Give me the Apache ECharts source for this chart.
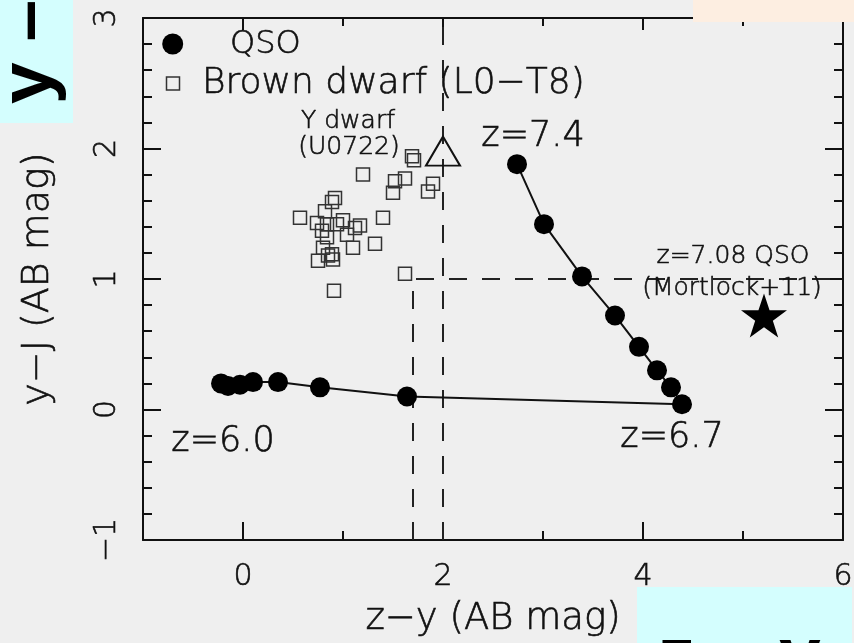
<!DOCTYPE html>
<html>
<head>
<meta charset="utf-8">
<script src="https://cdn.jsdelivr.net/npm/echarts@6/dist/echarts.min.js"></script>
<style>
html, body { margin: 0; padding: 0; background: #efefef; }
#chart { width: 854px; height: 643px; }
</style>
</head>
<body>
<div id="chart"></div>
<script>
// QSO model track, z=6.0 -> 6.7 -> 7.4
var qsoZY = [-0.22, -0.15, -0.03, 0.10, 0.35, 0.77, 1.64, 4.39, 4.28, 4.14, 3.96, 3.72, 3.39, 3.01, 2.74];
var qsoYJ = [0.20, 0.18, 0.19, 0.21, 0.21, 0.17, 0.10, 0.04, 0.17, 0.30, 0.48, 0.72, 1.02, 1.42, 1.88];

// brown dwarfs L0-T8
var bdZY = [1.69, 1.71, 1.20, 1.52, 1.62, 1.50, 1.90, 1.85, 0.92, 0.89, 0.57, 1.40, 0.82, 0.74, 1.00,
            1.17, 1.12, 0.79, 0.94, 1.32, 1.10, 0.84, 0.80, 0.89, 0.90, 0.75, 0.85, 1.62, 0.91, 0.84, 1.04];
var bdYJ = [1.94, 1.91, 1.80, 1.75, 1.77, 1.66, 1.73, 1.67, 1.62, 1.59, 1.47, 1.47, 1.52, 1.43, 1.45,
            1.41, 1.39, 1.37, 1.42, 1.27, 1.24, 1.32, 1.24, 1.19, 1.15, 1.14, 1.18, 1.04, 0.91, 1.42, 1.34];

var yDwarf = [2.0, 1.98];      // U0722
var mortlock = [5.21, 0.72];   // z=7.08 QSO

// selection cuts (dashed)
var cutAZY = [2.0, 2.0];
var cutAYJ = [-1, 3];
var cutBZY = [1.7, 1.7, 6];
var cutBYJ = [-1, 1, 1];

var xLabels = [0, 2, 4, 6];

// annotations: text and anchor in data units
var bigNoteText = ['z=7.4', 'z=6.0', 'z=6.7'];
var bigNoteZY = [2.90, -0.20, 4.29];
var bigNoteYJ = [2.09, -0.25, -0.22];
var smallNoteText = ['Y dwarf', '(U0722)', 'z=7.08 QSO', '(Mortlock+11)'];
var smallNoteZY = [1.05, 1.06, 4.90, 4.89];
var smallNoteYJ = [2.21, 2.01, 1.17, 0.93];

function pairs(xs, ys) {
  return xs.map(function (x, i) { return [x, ys[i]]; });
}
function notes(txt, xs, ys) {
  return txt.map(function (t, i) { return { value: [xs[i], ys[i]], name: t }; });
}
function minus(v) { return String(v).replace('-', '\u2212'); }

var FONT = "'DejaVu Sans', sans-serif";
var WEIGHT = 200;
var INK = '#111';
var THICK = { textBorderColor: INK, textBorderWidth: 0.6 };   // thin font, thicken a little
var chart = echarts.init(document.getElementById('chart'));

function txt(size) {
  return echarts.util.extend({ fontSize: size, fontWeight: WEIGHT, fontFamily: FONT, color: INK }, THICK);
}

function xAx(pos, major, showLabel) {
  var a = {
    type: 'value', position: pos, min: -1, max: 6,
    splitLine: { show: false },
    axisLine: { show: !major, onZero: false, lineStyle: { color: INK, width: 2 } },
    axisTick: { show: true, inside: true, length: pos === 'bottom' ? (major ? 18 : 9) : (major ? 12 : 8),
                lineStyle: { color: INK, width: 2 } },
    axisLabel: { show: false }
  };
  if (major) {
    a.minInterval = 2; a.maxInterval = 2; a.splitNumber = 3;
  } else {
    a.interval = 1;
  }
  if (showLabel) {
    a.axisLabel = echarts.util.extend({
      show: true, margin: 22,
      formatter: function (v) { return xLabels.indexOf(v) >= 0 ? minus(v) : ''; }
    }, txt(30));
    a.name = 'z\u2212y (AB mag)';
    a.nameLocation = 'middle';
    a.nameGap = 61;
    a.nameMoveOverlap = false;
    a.nameTextStyle = txt(37);
  }
  return a;
}

function yAx(pos, showLabel) {
  var a = {
    type: 'value', position: pos, min: -1, max: 3, interval: 1,
    splitLine: { show: false },
    axisLine: { show: true, onZero: false, lineStyle: { color: INK, width: 2 } },
    axisTick: { show: true, inside: true, length: 18, lineStyle: { color: INK, width: 2 } },
    minorTick: { show: true, splitNumber: 5, length: 9, lineStyle: { color: INK, width: 2 } },
    axisLabel: { show: false }
  };
  if (showLabel) {
    a.axisLabel = echarts.util.extend({ show: true, rotate: 90, margin: 21, formatter: minus }, txt(30));
    a.name = 'y\u2212J (AB mag)';
    a.nameLocation = 'middle';
    a.nameGap = 86;
    a.nameMoveOverlap = false;
    a.nameTextStyle = txt(38);
  }
  return a;
}

var dashStyle = { color: '#222', width: 2, type: [18, 15] };
function noteLabel(size) {
  return echarts.util.extend({ show: true, position: 'inside', formatter: '{b}', opacity: 1 }, txt(size));
}
function gText(x, y, s, size) {
  return { type: 'text', x: x, y: y, z: 10,
           style: { text: s, font: WEIGHT + ' ' + size + 'px ' + FONT, fill: INK, stroke: INK, lineWidth: 0.6,
                    verticalAlign: 'middle' } };
}

var option = {
  animation: false,
  backgroundColor: '#efefef',
  grid: { left: 143, right: 11, top: 18, bottom: 103, outerBoundsMode: 'none', containLabel: false },
  xAxis: [xAx('bottom', false, true), xAx('bottom', true, false), xAx('top', false, false), xAx('top', true, false)],
  yAxis: [yAx('left', true), yAx('right', false)],
  series: [
    {
      name: 'cut A', type: 'line', data: pairs(cutAZY, cutAYJ), symbol: 'none',
      lineStyle: dashStyle, silent: true, z: 1
    },
    {
      name: 'cut B', type: 'line', data: pairs(cutBZY, cutBYJ), symbol: 'none',
      lineStyle: dashStyle, silent: true, z: 1
    },
    {
      name: 'Brown dwarf (L0\u2212T8)', type: 'scatter', data: pairs(bdZY, bdYJ),
      symbol: 'rect', symbolSize: 13,
      itemStyle: { color: 'transparent', borderColor: '#333', borderWidth: 1.5, opacity: 1 }, z: 2
    },
    {
      name: 'Y dwarf', type: 'scatter', data: [yDwarf],
      symbol: 'triangle', symbolSize: [34, 29],
      itemStyle: { color: 'transparent', borderColor: INK, borderWidth: 2, opacity: 1 }, z: 3
    },
    {
      name: 'QSO', type: 'line', data: pairs(qsoZY, qsoYJ),
      symbol: 'circle', symbolSize: 20, showAllSymbol: true,
      lineStyle: { color: INK, width: 2 },
      itemStyle: { color: '#000', borderWidth: 0, opacity: 1 }, z: 4
    },
    {
      name: 'Mortlock+11', type: 'scatter', data: [mortlock],
      symbol: 'path://M50,0 L61.8,35.1 L98.9,35.1 L68.8,56.8 L80.2,91.9 L50,70.2 L19.8,91.9 L31.2,56.8 L1.1,35.1 L38.2,35.1 Z',
      symbolSize: [46, 44], itemStyle: { color: '#000', opacity: 1 }, z: 4
    },
    {
      name: 'notes big', type: 'scatter', data: notes(bigNoteText, bigNoteZY, bigNoteYJ),
      symbolSize: 0, silent: true, z: 5, itemStyle: { opacity: 1 },
      label: noteLabel(35)
    },
    {
      name: 'notes small', type: 'scatter', data: notes(smallNoteText, smallNoteZY, smallNoteYJ),
      symbolSize: 0, silent: true, z: 5, itemStyle: { opacity: 1 },
      label: noteLabel(25)
    }
  ],
  graphic: [
    // legend
    { type: 'circle', shape: { cx: 172.7, cy: 44, r: 10.5 }, style: { fill: '#000' }, z: 10 },
    { type: 'rect', shape: { x: 166.5, y: 77, width: 13, height: 13 },
      style: { fill: 'none', stroke: '#333', lineWidth: 1.5 }, z: 10 },
    gText(230, 45, 'QSO', 32),
    gText(202, 84, 'Brown dwarf (L0\u2212T8)', 36),
    // overlay boxes from the slide
    { type: 'rect', shape: { x: 0, y: 0, width: 73, height: 123 }, style: { fill: '#d4fefe' }, z: 100 },
    { type: 'text', x: 30, y: 104, rotation: Math.PI / 2,
      style: { text: 'y \u2013 J', font: 'bold 75px "Liberation Sans", Arial, sans-serif', fill: '#000',
               align: 'left', verticalAlign: 'middle' }, z: 101 },
    { type: 'rect', shape: { x: 693, y: 0, width: 161, height: 22 }, style: { fill: '#fdeee1' }, z: 100 },
    { type: 'rect', shape: { x: 637, y: 587, width: 215, height: 56 }, style: { fill: '#d4fefe' }, z: 100 },
    { type: 'text', x: 658, y: 658,
      style: { text: 'z \u2013 y', font: 'bold 75px "Liberation Sans", Arial, sans-serif', fill: '#000',
               align: 'left', verticalAlign: 'middle' }, z: 101 }
  ]
};

chart.setOption(option);
</script>
</body>
</html>
